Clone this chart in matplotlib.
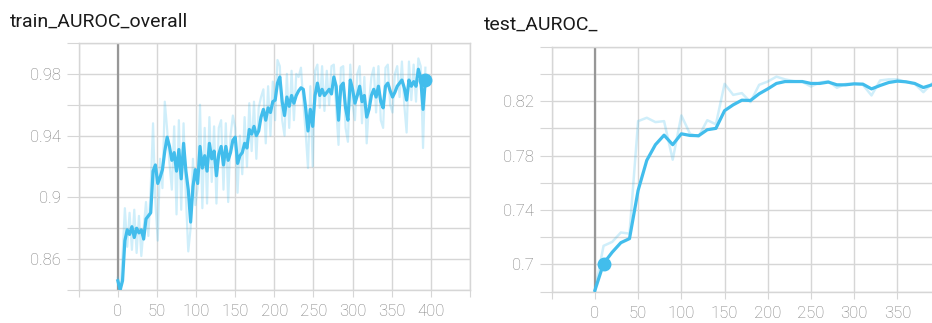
import numpy as np
import matplotlib
matplotlib.use('Agg')
from matplotlib import pyplot as plt

# data train (step tiap 3)
train_smooth = [0.846, 0.840, 0.846, 0.872, 0.879, 0.876, 0.881, 0.874, 0.880, 0.877,
                0.879, 0.873, 0.886, 0.888, 0.890, 0.917, 0.921, 0.909, 0.913, 0.918,
                0.930, 0.939, 0.933, 0.924, 0.929, 0.917, 0.931, 0.912, 0.935, 0.917,
                0.905, 0.884, 0.907, 0.918, 0.909, 0.933, 0.919, 0.927, 0.917, 0.935,
                0.925, 0.930, 0.914, 0.928, 0.933, 0.921, 0.933, 0.924, 0.929, 0.937,
                0.939, 0.922, 0.927, 0.929, 0.935, 0.932, 0.944, 0.941, 0.946, 0.940,
                0.943, 0.952, 0.957, 0.950, 0.958, 0.955, 0.962, 0.963, 0.974, 0.978,
                0.962, 0.953, 0.965, 0.959, 0.966, 0.961, 0.966, 0.969, 0.971, 0.970,
                0.958, 0.943, 0.957, 0.946, 0.966, 0.974, 0.966, 0.970, 0.966, 0.968,
                0.970, 0.967, 0.978, 0.972, 0.950, 0.972, 0.974, 0.958, 0.950, 0.976,
                0.970, 0.961, 0.966, 0.972, 0.962, 0.966, 0.952, 0.957, 0.966, 0.970,
                0.965, 0.972, 0.962, 0.958, 0.972, 0.974, 0.969, 0.965, 0.968, 0.972,
                0.974, 0.976, 0.971, 0.963, 0.976, 0.972, 0.975, 0.972, 0.983, 0.977,
                0.957, 0.976]
train_raw = [0.848, 0.836, 0.862, 0.893, 0.868, 0.890, 0.866, 0.892, 0.864, 0.888,
             0.862, 0.880, 0.897, 0.875, 0.906, 0.948, 0.897, 0.872, 0.925, 0.906,
             0.962, 0.944, 0.922, 0.905, 0.946, 0.889, 0.950, 0.892, 0.948, 0.900,
             0.865, 0.880, 0.925, 0.895, 0.906, 0.960, 0.893, 0.945, 0.896, 0.952,
             0.910, 0.946, 0.896, 0.945, 0.950, 0.905, 0.948, 0.897, 0.940, 0.953,
             0.945, 0.903, 0.940, 0.915, 0.952, 0.920, 0.961, 0.930, 0.962, 0.925,
             0.958, 0.965, 0.970, 0.935, 0.972, 0.940, 0.975, 0.950, 0.989, 0.985,
             0.950, 0.940, 0.980, 0.945, 0.982, 0.950, 0.980, 0.978, 0.984, 0.962,
             0.942, 0.919, 0.972, 0.920, 0.982, 0.986, 0.958, 0.985, 0.956, 0.982,
             0.960, 0.985, 0.986, 0.958, 0.934, 0.984, 0.985, 0.945, 0.936, 0.986,
             0.960, 0.950, 0.980, 0.985, 0.948, 0.978, 0.935, 0.962, 0.978, 0.984,
             0.955, 0.985, 0.950, 0.945, 0.984, 0.986, 0.960, 0.955, 0.980, 0.985,
             0.965, 0.988, 0.960, 0.942, 0.988, 0.963, 0.986, 0.962, 0.990, 0.985,
             0.932, 0.984]
train_steps = 3 * np.arange(len(train_smooth))

# data test (step tiap 10)
test_smooth = [0.681, 0.7007, 0.709, 0.716, 0.719, 0.7545, 0.7765, 0.788, 0.795, 0.788,
               0.796, 0.7948, 0.7946, 0.799, 0.800, 0.813, 0.8173, 0.8207, 0.8205, 0.8254,
               0.829, 0.833, 0.8344, 0.8344, 0.8344, 0.833, 0.833, 0.834, 0.832, 0.832,
               0.8327, 0.8325, 0.829, 0.8315, 0.8337, 0.8347, 0.8342, 0.833, 0.830, 0.832]
test_raw = [0.681, 0.7137, 0.7166, 0.7235, 0.7227, 0.8053, 0.8078, 0.8046, 0.8053, 0.777,
            0.8095, 0.796, 0.794, 0.806, 0.803, 0.8327, 0.8246, 0.8259, 0.8193, 0.832,
            0.8344, 0.838, 0.836, 0.8347, 0.8342, 0.8307, 0.8337, 0.8347, 0.8298, 0.8327,
            0.8327, 0.832, 0.8242, 0.8352, 0.836, 0.836, 0.834, 0.8327, 0.8266, 0.833]
test_steps = 10 * np.arange(len(test_smooth))

train_yticks = [0.86, 0.9, 0.94, 0.98]
test_yticks = [0.7, 0.74, 0.78, 0.82]

warna = '#42bdec'
abu_grid = '#d6d6d6'

fig = plt.figure(figsize=(9.32, 3.23), dpi=100)

def siapkan(ax, xlim, ylim, xticks_lbl, ylbl):
    ax.set_xlim(*xlim)
    ax.set_ylim(*ylim)
    xt = np.arange(-50, xlim[1] + 1, 50)
    ax.set_xticks(xt)
    ax.set_xticklabels([str(int(v)) if v in xticks_lbl else '' for v in xt])
    yt = np.round(np.arange(ylim[0], ylim[1] + 0.001, 0.02), 2)
    ax.set_yticks(yt)
    ax.set_yticklabels([f'{v:g}' if any(abs(v - l) < 1e-6 for l in ylbl) else '' for v in yt])
    ax.grid(True, color=abu_grid, lw=1.0)
    ax.set_axisbelow(True)
    for s in ax.spines.values():
        s.set_color(abu_grid)
        s.set_linewidth(1.0)
    ax.tick_params(axis='x', length=5, color=abu_grid, labelcolor='#7c7c7c',
                   labelsize=12, pad=5)
    ax.tick_params(axis='y', length=9, color=abu_grid, labelcolor='#7c7c7c',
                   labelsize=12, pad=4)
    for t in ax.get_xticklabels() + ax.get_yticklabels():
        t.set_fontfamily('Roboto')
        t.set_fontweight('light')
    ax.axvline(0, color='#979797', lw=1.6, zorder=1)

# 1. train
ax1 = fig.add_axes([78.7/932, 1 - 290/323, (470 - 78.7)/932, (290 - 43)/323])
siapkan(ax1, (-50, 450), (0.84, 1.0), range(0, 401, 50), train_yticks)
ax1.plot(train_steps, train_raw, color=warna, alpha=0.25, lw=1.6, zorder=2)
ax1.plot(train_steps, train_smooth, color=warna, lw=2.3, zorder=3)
ax1.plot(train_steps[-1], train_smooth[-1], 'o', color=warna, ms=9, zorder=4)

# 2. test
ax2 = fig.add_axes([551.7/932, 1 - 291.7/323, (932 - 551.7)/932, (291.7 - 46.7)/323])
siapkan(ax2, (-50, 390), (0.68, 0.86), range(0, 351, 50), test_yticks)
ax2.spines['right'].set_visible(False)
ax2.plot(test_steps, test_raw, color=warna, alpha=0.25, lw=1.8, zorder=2)
ax2.plot(test_steps, test_smooth, color=warna, lw=2.3, zorder=3)
ax2.plot(test_steps[1], test_smooth[1], 'o', color=warna, ms=9, zorder=4)

# judul
fig.text(10/932, 1 - 27/323, 'train_AUROC_overall', fontsize=14, color='#1a1a1a',
         family='Roboto')
fig.text(484/932, 1 - 30/323, 'test_AUROC_', fontsize=14, color='#1a1a1a',
         family='Roboto')

fig.savefig('out.png', dpi=100)
